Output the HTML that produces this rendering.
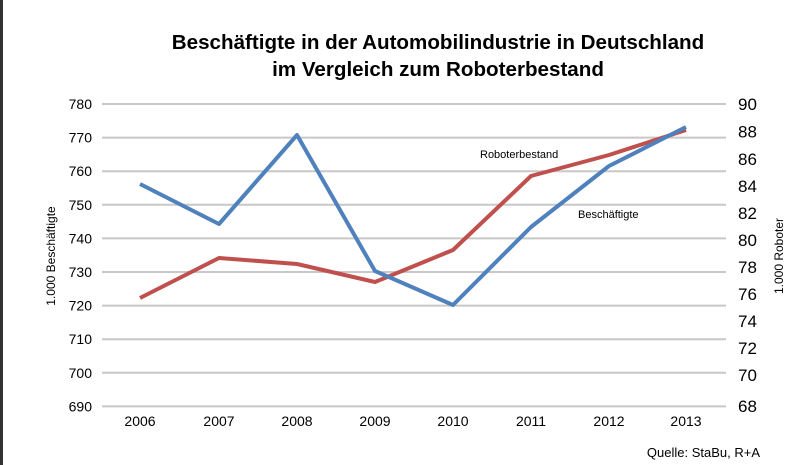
<!DOCTYPE html>
<html><head><meta charset="utf-8"><style>
body{margin:0;background:#fff}
svg{display:block}
text{font-family:"Liberation Sans",Arial,sans-serif}
</style></head><body>
<svg width="800" height="465" viewBox="0 0 800 465">
<rect x="0" y="0" width="800" height="465" fill="#fff"/>
<line x1="1.5" y1="0" x2="1.5" y2="465" stroke="#333" stroke-width="3"/>
<text x="438" y="49" text-anchor="middle" font-size="20.6" font-weight="bold">Beschäftigte in der Automobilindustrie in Deutschland</text>
<text x="438" y="76" text-anchor="middle" font-size="20.6" font-weight="bold">im Vergleich zum Roboterbestand</text>
<g stroke="#c8c8c8" stroke-width="2">
<line x1="102" y1="104" x2="726" y2="104"/>
<line x1="102" y1="137.6" x2="726" y2="137.6"/>
<line x1="102" y1="171.2" x2="726" y2="171.2"/>
<line x1="102" y1="204.8" x2="726" y2="204.8"/>
<line x1="102" y1="238.4" x2="726" y2="238.4"/>
<line x1="102" y1="272" x2="726" y2="272"/>
<line x1="102" y1="305.6" x2="726" y2="305.6"/>
<line x1="102" y1="339.2" x2="726" y2="339.2"/>
<line x1="102" y1="372.8" x2="726" y2="372.8"/>
<line x1="102" y1="406.4" x2="726" y2="406.4"/>
</g>
<g font-size="14" text-anchor="end">
<text x="92" y="109">780</text><text x="92" y="142.6">770</text><text x="92" y="176.2">760</text><text x="92" y="209.8">750</text><text x="92" y="243.4">740</text><text x="92" y="277">730</text><text x="92" y="310.6">720</text><text x="92" y="344.2">710</text><text x="92" y="377.8">700</text><text x="92" y="411.4">690</text>
</g>
<g font-size="17">
<text x="738" y="110">90</text><text x="738" y="137.6">88</text><text x="738" y="165">86</text><text x="738" y="192">84</text><text x="738" y="219">82</text><text x="738" y="246">80</text><text x="738" y="273">78</text><text x="738" y="300">76</text><text x="738" y="327">74</text><text x="738" y="354">72</text><text x="738" y="381">70</text><text x="738" y="412">68</text>
</g>
<g font-size="14" text-anchor="middle">
<text x="140" y="426">2006</text><text x="219" y="426">2007</text><text x="297" y="426">2008</text><text x="375" y="426">2009</text><text x="453" y="426">2010</text><text x="531" y="426">2011</text><text x="609" y="426">2012</text><text x="686" y="426">2013</text>
</g>
<text transform="translate(55,256) rotate(-90)" text-anchor="middle" font-size="12">1.000 Beschäftigte</text>
<text transform="translate(783,256) rotate(-90)" text-anchor="middle" font-size="12">1.000 Roboter</text>
<polyline fill="none" stroke="#c0504d" stroke-width="4" stroke-linejoin="round" points="140,298 219,258 297,264 375,282 453,250 531,176 609,155 686,130"/>
<polyline fill="none" stroke="#4f81bd" stroke-width="4" stroke-linejoin="round" points="140,184 219,224 297,135 375,271 453,305 531,227 609,166 686,127"/>
<text x="480" y="158" font-size="11">Roboterbestand</text>
<text x="578" y="218" font-size="11">Beschäftigte</text>
<text x="760" y="457" text-anchor="end" font-size="13">Quelle: StaBu, R+A</text>
</svg>
</body></html>
